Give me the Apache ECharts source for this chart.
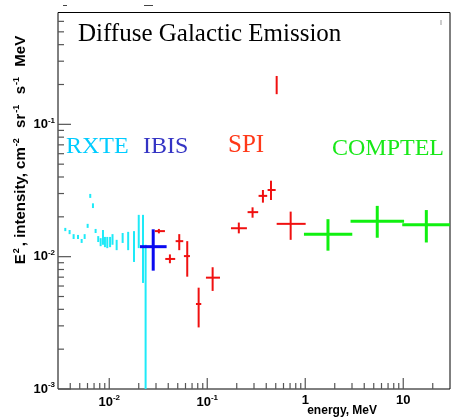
<!DOCTYPE html>
<html>
<head>
<meta charset="utf-8">
<script src="https://cdn.jsdelivr.net/npm/echarts@6/dist/echarts.min.js"></script>
<style>
  html, body { margin: 0; padding: 0; background: #fff; }
  #chart { width: 451px; height: 418px; }
</style>
</head>
<body>
<div id="chart"></div>
<script>
// RXTE: vertical bars only (energy, lower, upper)
const rxteE  = [0.00356, 0.00394, 0.00433, 0.0048, 0.00523, 0.00561, 0.00602, 0.0064, 0.00682, 0.00726, 0.00772, 0.00817, 0.00863, 0.00904, 0.00955, 0.0102, 0.0108, 0.0119, 0.0137, 0.0156, 0.0179, 0.02, 0.0221, 0.0235];
const rxteLo = [0.0156, 0.0148, 0.0136, 0.0136, 0.0127, 0.0136, 0.0165, 0.0278, 0.0233, 0.0151, 0.0129, 0.012, 0.0123, 0.0118, 0.0116, 0.0118, 0.0123, 0.0112, 0.0127, 0.0112, 0.00912, 0.0116, 0.00633, 0.001];
const rxteHi = [0.0165, 0.0159, 0.0148, 0.0146, 0.0136, 0.0148, 0.0177, 0.0298, 0.0253, 0.0162, 0.0143, 0.0138, 0.0159, 0.0141, 0.0141, 0.0141, 0.0148, 0.0134, 0.0151, 0.0154, 0.0156, 0.0207, 0.0207, 0.0123];

// IBIS
const ibisE = [0.0281], ibisElo = [0.0206], ibisEhi = [0.0385];
const ibisI = [0.0119], ibisIlo = [0.00784], ibisIhi = [0.0161];

// SPI
const spiE   = [0.0321, 0.0416, 0.0518, 0.0625, 0.0817, 0.1135, 0.21, 0.29, 0.37, 0.447, 0.71, 0.511];
const spiElo = [0.0292, 0.0373, 0.0476, 0.0578, 0.0767, 0.097, 0.1746, 0.258, 0.334, 0.413, 0.511, 0.511];
const spiEhi = [0.037, 0.0471, 0.0569, 0.0666, 0.0869, 0.1349, 0.254, 0.331, 0.409, 0.499, 1.01, 0.511];
const spiI   = [0.0156, 0.00961, 0.0131, 0.0101, 0.00439, 0.00694, 0.0164, 0.0217, 0.0288, 0.0319, 0.0177, 0.199];
const spiIlo = [0.015, 0.00892, 0.0112, 0.00706, 0.00292, 0.00551, 0.015, 0.0197, 0.0256, 0.0268, 0.0134, 0.169];
const spiIhi = [0.0162, 0.0104, 0.0148, 0.0131, 0.00583, 0.00832, 0.0181, 0.0236, 0.0319, 0.0375, 0.0219, 0.232];

// COMPTEL
const comptelE   = [1.706, 5.43, 17.2];
const comptelElo = [0.97, 2.9, 9.77];
const comptelEhi = [3.02, 10.2, 30];
const comptelI   = [0.0148, 0.0185, 0.0174];
const comptelIlo = [0.0111, 0.0139, 0.0128];
const comptelIhi = [0.0192, 0.0242, 0.0225];

const xMajorTicks = [0.01, 0.1, 1, 10];
const yMajorTicks = [0.001, 0.01, 0.1];
const X_MIN = 0.003, X_MAX = 30, Y_MIN = 0.001, Y_MAX = 0.7;

const xMinorTicks = [];
for (let k = -3; k <= 1; k++) {
  for (let m = 2; m <= 9; m++) {
    const v = m * Math.pow(10, k);
    if (v > X_MIN * 1.001 && v < X_MAX * 0.999) xMinorTicks.push(v);
  }
}
const yMinorTicks = [];
for (let k = -3; k <= -1; k++) {
  for (let m = 2; m <= 9; m++) {
    const v = m * Math.pow(10, k);
    if (v < Y_MAX * 0.999) yMinorTicks.push(v);
  }
}

function rows(...cols) {
  return cols[0].map((_, i) => cols.map(c => c[i]));
}

function crossRender(width) {
  return function (params, api) {
    const e = api.value(0), v = api.value(1);
    const l = api.coord([api.value(2), v]);
    const r = api.coord([api.value(3), v]);
    const t = api.coord([e, api.value(5)]);
    const b = api.coord([e, api.value(4)]);
    const style = { stroke: api.visual('color'), lineWidth: width };
    const children = [{ type: 'line', shape: { x1: t[0], y1: t[1], x2: b[0], y2: b[1] }, style }];
    if (r[0] - l[0] > 0.5) {
      children.push({ type: 'line', shape: { x1: l[0], y1: l[1], x2: r[0], y2: r[1] }, style });
    }
    return { type: 'group', children };
  };
}

function barRender(width) {
  return function (params, api) {
    const t = api.coord([api.value(0), api.value(2)]);
    const b = api.coord([api.value(0), api.value(1)]);
    return { type: 'line', shape: { x1: t[0], y1: t[1], x2: b[0], y2: b[1] },
      style: { stroke: api.visual('color'), lineWidth: width } };
  };
}

function xTickRender(params, api) {
  const v = api.value(0), len = api.value(1);
  const p = api.coord([v, Y_MIN]);
  return { type: 'line', shape: { x1: p[0], y1: p[1], x2: p[0], y2: p[1] - len },
    style: { stroke: '#555', lineWidth: 1.2 } };
}
function yTickRender(params, api) {
  const v = api.value(1), len = api.value(2);
  const p = api.coord([X_MIN, v]);
  return { type: 'line', shape: { x1: p[0], y1: p[1], x2: p[0] + len, y2: p[1] },
    style: { stroke: '#555', lineWidth: 1.2 } };
}

function powLabel(v) {
  const p = Math.log10(v);
  const k = Math.round(p);
  if (Math.abs(p - k) > 1e-6) return '';
  if (k === 0) return '{b|1}';
  if (k === 1) return '{b|10}';
  return '{b|10}{s|' + k + '}';
}
const labelRich = {
  b: { fontFamily: 'Liberation Sans', fontWeight: 'bold', fontSize: 13, color: '#000' },
  s: { fontFamily: 'Liberation Sans', fontWeight: 'bold', fontSize: 8, color: '#000', verticalAlign: 'top', padding: [0, 0, 8, 0] }
};

const chart = echarts.init(document.getElementById('chart'));
const sans = '"Liberation Sans", Arial, sans-serif';
const serif = '"Liberation Serif", "Times New Roman", serif';

chart.setOption({
  animation: false,
  grid: { left: 58, right: 1, top: 12.5, bottom: 29, show: true, borderColor: '#000', borderWidth: 1, backgroundColor: 'transparent' },
  xAxis: {
    type: 'log', logBase: 10, min: X_MIN, max: X_MAX,
    axisLine: { show: false }, axisTick: { show: false }, splitLine: { show: false },
    axisLabel: { formatter: powLabel, rich: labelRich, margin: 5, showMinLabel: false, showMaxLabel: false }
  },
  yAxis: {
    type: 'log', logBase: 10, min: Y_MIN, max: Y_MAX,
    axisLine: { show: false }, axisTick: { show: false }, splitLine: { show: false },
    axisLabel: { formatter: powLabel, rich: labelRich, margin: 3, showMaxLabel: false }
  },
  graphic: [
    { type: 'text', x: 78, y: 34, style: { text: 'Diffuse Galactic Emission', font: '25px ' + serif, fill: '#000', textVerticalAlign: 'middle', verticalAlign: 'middle' } },
    { type: 'text', x: 66, y: 147, style: { text: 'RXTE', font: '24px ' + serif, fill: '#00ccff', textVerticalAlign: 'middle', verticalAlign: 'middle' } },
    { type: 'text', x: 143, y: 147, style: { text: 'IBIS', font: '24px ' + serif, fill: '#3434c4', textVerticalAlign: 'middle', verticalAlign: 'middle' } },
    { type: 'text', x: 228, y: 145, style: { text: 'SPI', font: '25px ' + serif, fill: '#ff3818', textVerticalAlign: 'middle', verticalAlign: 'middle' } },
    { type: 'text', x: 332, y: 149, style: { text: 'COMPTEL', font: '24px ' + serif, fill: '#18e818', textVerticalAlign: 'middle', verticalAlign: 'middle' } },
    { type: 'text', x: 377, y: 411, style: { text: 'energy, MeV', font: 'bold 12px ' + sans, fill: '#000', textAlign: 'right', align: 'right', textVerticalAlign: 'middle', verticalAlign: 'middle' } },
    {
      type: 'text', x: 21, y: 150, rotation: Math.PI / 2,
      style: {
        text: 'E{s|2}, intensity, cm{s|-2}  sr{s|-1}  s{s|-1}  MeV',
        font: 'bold 15px ' + sans, fill: '#000',
        textAlign: 'center', align: 'center', textVerticalAlign: 'middle', verticalAlign: 'middle',
        rich: { s: { fontFamily: 'Liberation Sans', fontWeight: 'bold', fontSize: 9, fill: '#000', verticalAlign: 'top', padding: [0, 2, 9, 1] } }
      }
    },
    { type: 'line', shape: { x1: 63, y1: 5.5, x2: 67, y2: 5.5 }, style: { stroke: '#444', lineWidth: 1 } },
    { type: 'line', shape: { x1: 144, y1: 5.5, x2: 153, y2: 5.5 }, style: { stroke: '#444', lineWidth: 1 } },
    { type: 'line', shape: { x1: 441, y1: 20, x2: 441, y2: 25 }, style: { stroke: '#999', lineWidth: 1 } }
  ],
  series: [
    { type: 'custom', name: 'xticks', silent: true, renderItem: xTickRender,
      data: xMajorTicks.map(v => [v, 11]).concat(xMinorTicks.map(v => [v, 6])) },
    { type: 'custom', name: 'yticks', silent: true, renderItem: yTickRender,
      data: yMajorTicks.map(v => [X_MIN, v, 13]).concat(yMinorTicks.map(v => [X_MIN, v, 6])) },
    { type: 'custom', name: 'RXTE', color: '#1eeaf8', renderItem: barRender(2),
      data: rows(rxteE, rxteLo, rxteHi) },
    { type: 'custom', name: 'IBIS', color: '#0a0af0', renderItem: crossRender(3),
      data: rows(ibisE, ibisI, ibisElo, ibisEhi, ibisIlo, ibisIhi) },
    { type: 'custom', name: 'SPI', color: '#f01010', renderItem: crossRender(2),
      data: rows(spiE, spiI, spiElo, spiEhi, spiIlo, spiIhi) },
    { type: 'custom', name: 'COMPTEL', color: '#10f010', renderItem: crossRender(3),
      data: rows(comptelE, comptelI, comptelElo, comptelEhi, comptelIlo, comptelIhi) }
  ]
});
</script>
</body>
</html>
